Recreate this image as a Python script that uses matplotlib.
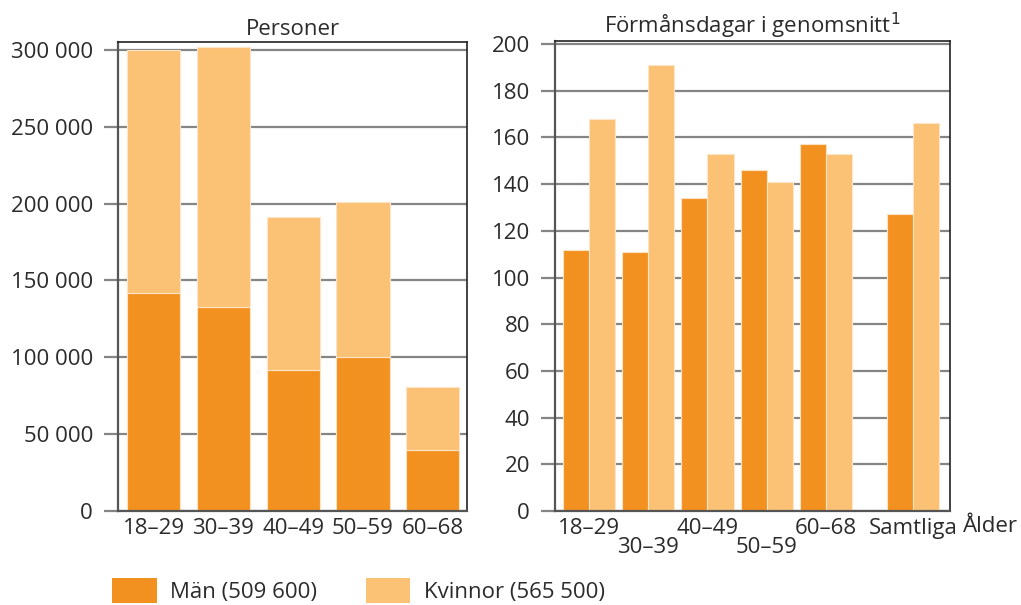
import matplotlib.pyplot as plt
import numpy as np
from matplotlib.patches import Patch

plt.rcParams['font.family'] = ['Open Sans', 'DejaVu Sans']

# Personer per åldersgrupp
age_groups = ['18–29', '30–39', '40–49', '50–59', '60–68']
men_persons = [142000, 133000, 92000, 100000, 40000]
women_persons = [158000, 169000, 99000, 101000, 41000]

# Förmånsdagar i genomsnitt
day_groups = ['18–29', '30–39', '40–49', '50–59', '60–68', 'Samtliga']
men_days = [112, 111, 134, 146, 157, 127]
women_days = [168, 191, 153, 141, 153, 166]

left_ticks = [0, 50000, 100000, 150000, 200000, 250000, 300000]
right_ticks = [0, 20, 40, 60, 80, 100, 120, 140, 160, 180, 200]

MEN_COLOR = '#F39120'
WOMEN_COLOR = '#FBC175'
GRID_COLOR = '#858585'
TEXT_COLOR = '#2b2b2b'
FS = 16


def style_axes(ax):
    ax.set_axisbelow(True)
    ax.yaxis.grid(True, color=GRID_COLOR, linewidth=1.6)
    ax.xaxis.grid(False)
    ax.spines['left'].set_color('#555555')
    ax.spines['left'].set_linewidth(1.6)
    ax.spines['bottom'].set_color('#555555')
    ax.spines['bottom'].set_linewidth(1.6)
    for side in ('top', 'right'):
        ax.spines[side].set_color('#222222')
        ax.spines[side].set_linewidth(1.2)
    ax.tick_params(axis='y', length=10, width=1.6, color=GRID_COLOR,
                   labelsize=FS, labelcolor=TEXT_COLOR, pad=8)
    ax.tick_params(axis='x', length=0, labelsize=FS, labelcolor=TEXT_COLOR, pad=5)


fig = plt.figure(figsize=(10.21, 6.05), dpi=100)

# Left: Personer
ax1 = fig.add_axes([0.1156, 0.1554, 0.3418, 0.7752])
x1 = np.arange(len(age_groups))
ax1.bar(x1, men_persons, width=0.76, color=MEN_COLOR, edgecolor='#FBE3C4', linewidth=0.8)
ax1.bar(x1, women_persons, width=0.76, bottom=men_persons, color=WOMEN_COLOR,
        edgecolor='#FDE6C8', linewidth=0.8)
ax1.set_xlim(-0.51, 4.49)
ax1.set_ylim(0, 305200)
ax1.set_yticks(left_ticks)
ax1.set_yticklabels([f'{v:,}'.replace(',', ' ') for v in left_ticks])
ax1.set_xticks(x1)
ax1.set_xticklabels(age_groups)
style_axes(ax1)
ax1.set_title('Personer', fontsize=FS, color=TEXT_COLOR, pad=5)

# Right: Förmånsdagar i genomsnitt
ax2 = fig.add_axes([0.5436, 0.1554, 0.3869, 0.7768])
x2 = np.array([0, 1, 2, 3, 4, 5.47])
w = 0.44
ax2.bar(x2 - w / 2, men_days, width=w, color=MEN_COLOR, edgecolor='#FBE3C4', linewidth=0.8)
ax2.bar(x2 + w / 2, women_days, width=w, color=WOMEN_COLOR, edgecolor='#FDE6C8', linewidth=0.8)
ax2.set_xlim(-0.57, 6.09)
ax2.set_ylim(0, 201.3)
ax2.set_yticks(right_ticks)
ax2.set_xticks(x2)
ax2.set_xticklabels(day_groups)
style_axes(ax2)
for i, lbl in enumerate(ax2.get_xticklabels()):
    if i in (1, 3):
        lbl.set_y(-0.04)
ax2.set_title('Förmånsdagar i genomsnitt$^1$', fontsize=FS, color=TEXT_COLOR, pad=5)
fig.text(0.997, 0.1554 - 0.011 * 0.7768, 'Ålder', ha='right', va='top',
         fontsize=FS, color=TEXT_COLOR)

# Legend
handles = [Patch(facecolor=MEN_COLOR, label='Män (509 600)'),
           Patch(facecolor=WOMEN_COLOR, label='Kvinnor (565 500)')]
fig.legend(handles=handles, loc='lower left', bbox_to_anchor=(0.1077, 0.0), ncol=2,
           frameon=False, fontsize=FS, handlelength=2.0, handleheight=1.35,
           handletextpad=0.6, columnspacing=2.2, labelcolor=TEXT_COLOR,
           borderpad=0.1, borderaxespad=0)

fig.savefig('out.png', dpi=100)
